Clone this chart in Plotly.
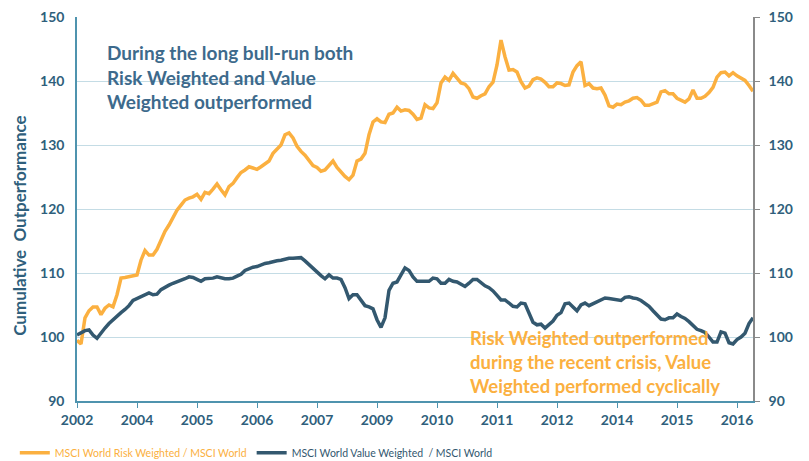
import plotly.graph_objects as go

# Period index (equally spaced category-style axis as in the source chart)
tick_labels = ["2002", "2004", "2005", "2006", "2007", "2009",
               "2010", "2011", "2012", "2014", "2015", "2016"]
tick_step = 15

risk_weighted = [
    99.5, 98.9, 103.0, 104.1, 104.7, 104.7, 103.5, 104.5, 105.0, 104.7,
    106.6, 109.2, 109.3, 109.4, 109.6, 109.7, 112.0, 113.5, 112.8, 112.8,
    113.7, 115.2, 116.5, 117.5, 118.7, 119.8, 120.6, 121.4, 121.7, 121.9,
    122.3, 121.5, 122.6, 122.4, 123.1, 123.9, 123.0, 122.2, 123.5, 124.0,
    124.9, 125.7, 126.1, 126.6, 126.4, 126.2, 126.6, 127.0, 127.5, 128.7,
    129.3, 130.0, 131.6, 131.9, 131.1, 129.8, 129.0, 128.4, 127.6, 126.8,
    126.5, 125.9, 126.1, 126.9, 127.5, 126.5, 125.7, 125.1, 124.6, 125.3,
    127.5, 127.8, 128.7, 131.6, 133.6, 134.1, 133.6, 133.5, 134.8, 135.0,
    135.9, 135.3, 135.5, 135.4, 134.8, 134.0, 134.2, 136.3, 135.8, 135.7,
    136.6, 139.7, 140.6, 140.1, 141.2, 140.4, 139.7, 139.5, 138.8, 137.5,
    137.3, 137.7, 138.0, 139.1, 139.8, 142.5, 146.4, 143.8, 141.7, 141.8,
    141.4, 139.9, 138.9, 139.2, 140.2, 140.5, 140.3, 139.8, 139.1, 139.1,
    139.7, 139.6, 139.3, 139.4, 141.4, 142.4, 143.0, 139.3, 139.6, 138.9,
    138.8, 138.9, 137.8, 136.1, 135.9, 136.4, 136.3, 136.7, 136.9, 137.3,
    137.4, 137.0, 136.2, 136.2, 136.4, 136.7, 138.3, 138.5, 138.0, 138.0,
    137.3, 137.0, 136.7, 137.2, 138.6, 137.3, 137.3, 137.6, 138.2, 139.0,
    140.6, 141.3, 141.4, 140.8, 141.3, 140.8, 140.5, 140.1, 139.3, 138.4,
]

value_weighted = [
    100.3, 100.7, 101.0, 101.1, 100.3, 99.8, 100.7, 101.4, 102.1, 102.7,
    103.3, 103.8, 104.3, 104.9, 105.7, 106.0, 106.3, 106.7, 106.9, 106.6,
    106.7, 107.4, 107.8, 108.1, 108.4, 108.6, 108.8, 109.1, 109.4, 109.3,
    109.0, 108.7, 109.1, 109.1, 109.2, 109.4, 109.2, 109.1, 109.1, 109.2,
    109.5, 109.8, 110.4, 110.7, 110.9, 111.0, 111.3, 111.5, 111.6, 111.8,
    111.9, 112.0, 112.2, 112.3, 112.3, 112.4, 112.4, 111.9, 111.3, 110.7,
    110.2, 109.6, 109.1, 109.7, 109.2, 109.2, 109.0, 107.7, 106.0, 106.6,
    106.6, 105.8, 104.9, 104.7, 104.4, 102.7, 101.5, 103.0, 107.3, 108.4,
    108.6, 109.7, 110.8, 110.4, 109.4, 108.7, 108.7, 108.6, 108.7, 109.2,
    109.1, 108.4, 108.4, 109.0, 108.7, 108.6, 108.3, 107.9, 108.4, 109.0,
    109.0, 108.5, 108.0, 107.7, 107.2, 106.5, 105.8, 105.8, 105.3, 104.8,
    104.7, 105.3, 105.2, 103.6, 102.3, 101.9, 102.0, 101.4, 101.9, 102.5,
    103.4, 103.8, 105.2, 105.3, 104.7, 104.1, 105.0, 105.3, 104.9, 105.2,
    105.6, 105.9, 106.1, 106.0, 105.9, 105.9, 105.7, 106.2, 106.3, 106.1,
    106.0, 105.7, 105.3, 104.8, 104.1, 103.4, 102.8, 102.7, 103.0, 103.0,
    103.6, 103.2, 102.9, 102.4, 101.8, 101.2, 101.0, 100.7, 100.0, 99.2,
    99.2, 100.8, 100.6, 99.1, 98.9, 99.6, 100.0, 100.6, 102.1, 103.0,
]

y_ticks = [90, 100, 110, 120, 130, 140, 150]

ORANGE = "#FBB040"
NAVY = "#33586F"
TEAL_TXT = "#2F5F7C"
AXIS_TEAL = "#4F93AE"
GRID = "#C4DCE5"
FONT = "Lato"

x = list(range(len(risk_weighted)))
tick_vals = [i * tick_step for i in range(len(tick_labels))]

fig = go.Figure()
fig.add_trace(go.Scatter(
    x=x, y=risk_weighted, mode="lines",
    name=f"<span style='color:{ORANGE}'>MSCI World Risk Weighted / MSCI World</span>",
    line=dict(color=ORANGE, width=3.5),
))
fig.add_trace(go.Scatter(
    x=x, y=value_weighted, mode="lines",
    name=f"<span style='color:{NAVY}'>MSCI World Value Weighted  / MSCI World</span>",
    line=dict(color=NAVY, width=3.5),
))
# invisible helper trace so the secondary (right) axis is drawn
fig.add_trace(go.Scatter(
    x=x, y=value_weighted, yaxis="y2", mode="lines", opacity=0,
    showlegend=False, hoverinfo="skip", line=dict(width=0),
))

fig.update_layout(
    width=801, height=453,
    margin=dict(l=69, r=56, t=9, b=60, autoexpand=False),
    paper_bgcolor="white", plot_bgcolor="white",
    font=dict(family=FONT, color=TEAL_TXT),
    xaxis=dict(
        range=[0, len(x) - 1], tickmode="array", tickvals=tick_vals,
        ticktext=tick_labels, showgrid=False, zeroline=False,
        showline=True, linecolor=AXIS_TEAL, linewidth=1.5,
        ticks="outside", ticklen=5, tickcolor=AXIS_TEAL, tickwidth=1,
        tickfont=dict(family=FONT, size=14, color=TEAL_TXT, weight="bold"),
        automargin=False, ticklabeloverflow="allow",
    ),
    yaxis=dict(
        range=[90, 150], tickmode="array", tickvals=y_ticks,
        showgrid=True, gridcolor=GRID, gridwidth=1.2, zeroline=False,
        showline=True, linecolor=AXIS_TEAL, linewidth=1.5, ticks="",
        tickfont=dict(family=FONT, size=14, color=TEAL_TXT, weight="bold"),
        automargin=False, ticklabeloverflow="allow", ticklabelstandoff=8,
    ),
    yaxis2=dict(
        range=[90, 150], tickmode="array", tickvals=y_ticks,
        overlaying="y", side="right", showgrid=False, zeroline=False,
        showline=True, linecolor="#8A8A8A", linewidth=1.5,
        ticks="outside", ticklen=5, tickcolor="#8A8A8A",
        tickfont=dict(family=FONT, size=14, color=TEAL_TXT, weight="bold"),
        automargin=False, ticklabeloverflow="allow", ticklabelstandoff=6,
    ),
    legend=dict(
        orientation="h", x=-0.092, y=-0.097, xanchor="left", yanchor="top",
        font=dict(family=FONT, size=10.5), itemwidth=30,
        bgcolor="rgba(0,0,0,0)",
    ),
    showlegend=True,
    annotations=[
        dict(xref="paper", yref="paper", x=-0.085, y=0.455, xanchor="center",
             yanchor="middle", textangle=-90, showarrow=False,
             text="Cumulative  Outperformance",
             font=dict(family=FONT, size=17, color=TEAL_TXT, weight="bold")),
        dict(xref="paper", yref="paper", x=0.042, y=0.942, xanchor="left",
             yanchor="top", align="left", showarrow=False,
             text="During the long bull-run both<br>Risk Weighted and Value<br>Weighted outperformed",
             font=dict(family=FONT, size=19, color="#3D6A8C", weight="bold")),
        dict(xref="paper", yref="paper", x=0.578, y=0.198, xanchor="left",
             yanchor="top", align="left", showarrow=False,
             text="Risk Weighted outperformed<br>during the recent crisis, Value<br>Weighted performed cyclically",
             font=dict(family=FONT, size=18.5, color=ORANGE, weight="bold")),
    ],
)

fig.write_html("out.html")
